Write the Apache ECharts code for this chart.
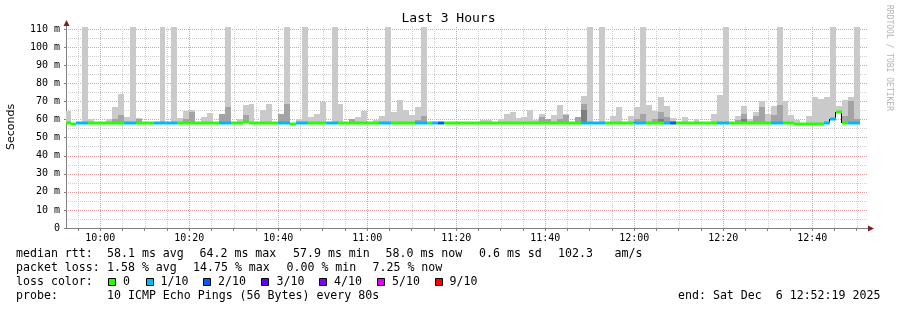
<!DOCTYPE html>
<html><head><meta charset="utf-8">
<script src="https://cdn.jsdelivr.net/npm/echarts@6/dist/echarts.min.js"></script>
<style>html,body{margin:0;padding:0;background:#fff}#c{width:897px;height:310px}</style>
</head><body><div id="c"></div>
<script>
// ---------- data ----------
// x values are seconds since local midnight, Sat Dec 6 2025
const STEP_SEC = 80;
const START = 9 * 3600 + 52 * 60 + 19;      // 09:52:19
const END = 12 * 3600 + 52 * 60 + 19;       // 12:52:19
const FIRST_STEP_END = 9 * 3600 + 53 * 60 + 20;

// top of the lightest smoke layer (max ping), null = no visible smoke
const smokeMax = [
 64.6,null,null,111.3,60.5,null,null,60.2,66.8,74.4,
 61.5,111.3,61,null,null,null,111.3,null,111.3,61,
 65,65.5,null,61.7,63.9,null,63.3,111.3,null,60.5,
 68.1,68.9,null,65.5,68.9,null,63.3,111.3,null,60.5,
 111.3,61.3,63.3,69.6,null,111.3,68.9,null,60.5,61.3,
 64.6,null,60,62.2,111.3,64.1,71.1,65.2,62.8,67,
 111.3,null,null,null,null,null,null,null,null,null,
 60,59.8,null,60.6,63.2,64,61,61.3,65.6,60,
 63.2,60.6,62.8,68.3,63.2,null,61.3,73.3,111.3,null,
 111.3,null,61.9,67,null,61.9,67,111.3,68.3,64.6,
 72.4,67.8,61,null,61.3,null,60.6,null,null,63.3,
 73.9,111.3,null,61.9,67.8,60.6,64.1,70.6,63.2,67.8,
 111.3,70.6,62.8,60,null,62.2,72.6,71.7,72.6,111.3,
 67.8,71.1,72.6,111.3,null
];
// top of the middle smoke layer
const smokeMid = [
 null,null,null,null,null,null,null,null,60.5,62.4,
 null,null,60.5,null,null,null,null,null,null,null,
 60.5,64.3,null,null,null,null,63.3,67.2,null,null,
 62.4,null,null,null,null,null,63.3,68.9,null,null,
 null,null,null,null,null,null,null,null,60.5,null,
 null,null,null,null,null,null,null,null,null,60,
 61.9,null,null,null,null,null,null,null,null,null,
 null,null,null,null,null,null,null,null,null,null,
 61.5,60.6,null,60.3,62.8,null,61.3,68.9,null,null,
 null,null,null,null,null,null,60.6,63.2,null,60.6,
 64.1,61.3,null,null,null,null,null,null,null,null,
 null,null,null,60,63.2,null,61.9,67,null,62.8,
 68.3,null,null,null,null,null,null,null,null,null,
 null,62.2,70.6,60.6,null
];
// top of the dark smoke layer
const smokeDark = [
 null,null,null,null,null,null,null,null,null,null,
 null,null,null,null,null,null,58.9,null,null,null,
 null,null,null,null,null,null,null,null,null,null,
 null,null,null,null,null,null,null,null,null,null,
 null,null,null,null,null,null,null,null,null,null,
 null,null,null,null,null,null,null,null,null,null,
 null,null,null,null,null,null,null,null,null,null,
 null,null,null,null,null,null,null,null,null,null,
 null,null,null,null,null,null,null,65.2,null,null,
 null,null,null,null,null,null,null,null,null,null,
 60.6,null,null,null,null,null,null,null,null,null,
 null,null,null,null,60.6,null,null,null,null,null,
 null,null,null,null,null,null,null,null,null,null,
 null,null,null,null,null
];
// median rtt (ms)
const medianRtt = [
 58.4,57.6,58,58,58,58,58,58,58,58,
 58,58,58,58,58,58,58,58,58,58,
 58,58,58,58,58,58,58,58,58,58,
 58.5,58,58,58,58,58,58,58,57.6,58,
 58,58,58,58,58,58,58,58,58,58,
 58,58,58,58,58,58,58,58,58,58,
 58,58,58,58,58,58,58,58,58,58,
 58.4,58.4,58,58,58,58,58,58,58,58,
 58,58,58,58,58,58,58,58,58,58,
 58,58,58,58,58,58,58,58,58.4,58,
 58,58,58,58,58,58,58,58,58,58,
 58,58,58,58,58,58,58,58,58,58,
 58,58.4,58.4,57.7,57.7,57.7,57.7,57.7,58,60.3,
 64.2,57.9,58,58,null
];
// lost pings out of 10
const lossCount = [
 0,0,1,1,0,0,0,0,0,0,
 1,1,0,0,0,1,1,1,1,0,
 0,0,0,0,0,0,1,1,0,0,
 0,0,0,0,0,0,1,1,0,1,
 1,0,0,0,1,1,0,0,0,0,
 0,0,0,1,1,0,0,0,0,1,
 1,0,1,2,0,0,0,0,0,0,
 0,0,0,0,0,0,0,0,0,0,
 0,0,0,0,0,0,0,1,1,1,
 1,0,0,0,0,0,1,1,0,0,
 0,1,2,0,0,0,0,0,0,0,
 1,1,0,0,0,0,0,0,0,1,
 1,0,0,0,0,0,0,0,1,1,
 0,0,1,1,null
];
const lossLevels = [0, 1, 2, 3, 4, 5, 9];
const lossLabels = ['0', '1/10', '2/10', '3/10', '4/10', '5/10', '9/10'];
const lossColors = ['#26ff00', '#00b8ff', '#0059ff', '#5e00ff', '#7e00ff', '#dd00ff', '#ff0000'];
const yTicks = [0,10,20,30,40,50,60,70,80,90,100,110];
const xTickLabels = ['10:00','10:20','10:40','11:00','11:20','11:40','12:00','12:20','12:40'];
const xMinorTickMinutes = 5;

const statRows = [
  [['median rtt:', 16], ['58.1 ms avg', 107], ['64.2 ms max', 199.5], ['57.9 ms min', 293], ['58.0 ms now', 385.5], ['0.6 ms sd', 479], ['102.3', 558], ['am/s', 614.5]],
  [['packet loss:', 16], ['1.58 % avg', 107], ['14.75 % max', 193], ['0.00 % min', 286.5], ['7.25 % now', 372.5]],
  [['loss color:', 16]],
  [['probe:', 16], ['10 ICMP Echo Pings (56 Bytes) every 80s', 107], ['end: Sat Dec  6 12:52:19 2025', 678]]
];
const legendBoxX = [108.3, 145.7, 203.3, 261, 319, 376.7, 435];
const legendLabelX = [123, 160.5, 218, 276.5, 334, 392, 449.5];

// ---------- build ----------
const stepEnd = medianRtt.map((_, i) => FIRST_STEP_END + i * STEP_SEC);
const colorOfLoss = l => lossColors[Math.max(0, lossLevels.indexOf(l))];
const two = n => (n < 10 ? '0' : '') + n;
const hhmm = s => two(Math.floor(s / 3600)) + ':' + two(Math.floor((s % 3600) / 60));
const parseHM = str => { const p = str.split(':'); return (+p[0]) * 3600 + (+p[1]) * 60; };
const majorX = xTickLabels.map(parseHM);
const minorX = [];
for (let s = Math.ceil(START / (xMinorTickMinutes * 60)) * xMinorTickMinutes * 60; s < END; s += xMinorTickMinutes * 60) {
  if (majorX.indexOf(s) < 0) minorX.push(s);
}

function layerData(arr) {
  const out = [];
  arr.forEach((v, i) => { if (v != null && medianRtt[i] != null) out.push([stepEnd[i], medianRtt[i] - 0.4, v]); });
  return out;
}
function smokeRender(color) {
  return function (params, api) {
    const t = api.value(0), lo = api.value(1), hi = api.value(2);
    const a = api.coord([t - STEP_SEC, hi]);
    const b = api.coord([t, lo]);
    const cs = params.coordSys;
    const x0 = Math.max(Math.round(a[0]), cs.x), x1 = Math.min(Math.round(b[0]), cs.x + cs.width);
    const y0 = Math.max(Math.round(a[1]), cs.y), y1 = Math.round(b[1]);
    if (x1 <= x0) return;
    return { type: 'rect', shape: { x: x0, y: y0, width: x1 - x0, height: y1 - y0 }, style: { fill: color } };
  };
}
function vGridRender(color) {
  return function (params, api) {
    const p = api.coord([api.value(0), 0]);
    const cs = params.coordSys;
    const x = Math.round(p[0]) + 0.5;
    return { type: 'line', shape: { x1: x, y1: cs.y + cs.height, x2: x, y2: cs.y }, style: { stroke: color, lineWidth: 1, lineDash: [1, 1] } };
  };
}
const medData = [];
const connData = [];
medianRtt.forEach((m, i) => {
  if (m == null) return;
  medData.push([stepEnd[i], m, lossCount[i]]);
  const n = medianRtt[i + 1];
  if (n != null) connData.push([stepEnd[i], m, n]);
});

const GRID = { left: 66, right: 30, top: 27, bottom: 82 };
const mono = 'DejaVu Sans Mono';
const MAJOR_C = '#e89c9c', MINOR_C = '#cfcfcf';

const chart = echarts.init(document.getElementById('c'), null, { renderer: 'canvas' });

const graphics = [];
graphics.push({ type: 'text', left: 'center', top: 12, style: { text: 'Last 3 Hours', font: '13px "' + mono + '"', fill: '#000' } });
graphics.push({ type: 'text', x: 11, y: 127, rotation: Math.PI / 2, style: { text: 'Seconds', font: '11px "DejaVu Sans"', fill: '#000', align: 'center', verticalAlign: 'middle' } });
graphics.push({ type: 'text', x: 889, y: 5, rotation: -Math.PI / 2, style: { text: 'RRDTOOL / TOBI OETIKER', font: '8px "' + mono + '"', fill: '#b4b4b4', align: 'left', verticalAlign: 'middle' } });
const rowY = [254, 268, 282, 296];
statRows.forEach((row, r) => row.forEach(([txt, x]) => graphics.push({
  type: 'text', x: x, y: rowY[r], style: { text: txt, font: '11.6px "' + mono + '"', fill: '#000', verticalAlign: 'middle' }
})));
lossLabels.forEach((lab, k) => {
  graphics.push({ type: 'rect', shape: { x: Math.round(legendBoxX[k]) + 0.5, y: 278.5, width: 7, height: 7 }, style: { fill: lossColors[k], stroke: '#000', lineWidth: 1 } });
  graphics.push({ type: 'text', x: legendLabelX[k], y: rowY[2], style: { text: lab, font: '11.6px "' + mono + '"', fill: '#000', verticalAlign: 'middle' } });
});
// axis arrows
const axisBottom = 310 - GRID.bottom, axisRight = 897 - GRID.right;
graphics.push({ type: 'line', shape: { x1: GRID.left + 0.5, y1: GRID.top, x2: GRID.left + 0.5, y2: 22 }, style: { stroke: '#808080', lineWidth: 1 } });
graphics.push({ type: 'polygon', shape: { points: [[GRID.left - 2.5, 26], [GRID.left + 3.5, 26], [GRID.left + 0.5, 20]] }, style: { fill: '#7f1f1f' } });
graphics.push({ type: 'line', shape: { x1: axisRight, y1: axisBottom + 0.5, x2: axisRight + 3, y2: axisBottom + 0.5 }, style: { stroke: '#808080', lineWidth: 1 } });
graphics.push({ type: 'polygon', shape: { points: [[axisRight + 1, axisBottom - 2.5], [axisRight + 1, axisBottom + 3.5], [axisRight + 7, axisBottom + 0.5]] }, style: { fill: '#7f1f1f' } });

const majorDot = { color: MAJOR_C, type: [1, 1], width: 1 };
const minorDot = { color: MINOR_C, type: [1, 1], width: 1 };

chart.setOption({
  animation: false,
  backgroundColor: '#fff',
  grid: GRID,
  xAxis: [
    { type: 'value', min: START, max: END, z: 0,
      axisLine: { show: false }, axisLabel: { show: false },
      axisTick: { show: true, length: 3, customValues: minorX.concat(majorX), lineStyle: { color: '#808080' } },
      splitLine: { show: false } },
    { type: 'value', min: START, max: END, z: 1, position: 'bottom',
      axisLine: { show: true, lineStyle: { color: '#808080', width: 1 } },
      axisTick: { show: false, customValues: majorX },
      axisLabel: { margin: 5, color: '#000', fontFamily: mono, fontSize: 10, customValues: majorX,
        formatter: v => hhmm(v) },
      splitLine: { show: false } }
  ],
  yAxis: [
    { type: 'value', min: 0, max: 111.3, interval: 5, z: 0,
      axisLine: { show: false }, axisLabel: { show: false }, axisTick: { show: false },
      splitLine: { show: true, lineStyle: minorDot, showMinLine: false, showMaxLine: false } },
    { type: 'value', min: 0, max: 111.3, interval: 10, z: 1, position: 'left',
      axisLine: { show: true, lineStyle: { color: '#808080', width: 1 } },
      axisTick: { show: true, length: 2, inside: false, lineStyle: { color: '#808080' } },
      axisLabel: { margin: 6, color: '#000', fontFamily: mono, fontSize: 10, showMaxLabel: false,
        formatter: v => (yTicks.indexOf(v) < 0 ? '' : (v === 0 ? '0' : v + ' m')) },
      splitLine: { show: true, lineStyle: majorDot, showMinLine: false, showMaxLine: false } }
  ],
  series: [
    { type: 'custom', xAxisIndex: 1, yAxisIndex: 1, data: minorX.map(v => [v]), renderItem: vGridRender(MINOR_C), z: 1, silent: true },
    { type: 'custom', xAxisIndex: 1, yAxisIndex: 1, data: majorX.map(v => [v]), renderItem: vGridRender(MAJOR_C), z: 1, silent: true },
    { type: 'custom', xAxisIndex: 1, yAxisIndex: 1, data: layerData(smokeMax), renderItem: smokeRender('#cacaca'), z: 2, silent: true },
    { type: 'custom', xAxisIndex: 1, yAxisIndex: 1, data: layerData(smokeMid), renderItem: smokeRender('#a4a4a4'), z: 3, silent: true },
    { type: 'custom', xAxisIndex: 1, yAxisIndex: 1, data: layerData(smokeDark), renderItem: smokeRender('#7e7e7e'), z: 4, silent: true },
    { type: 'custom', xAxisIndex: 1, yAxisIndex: 1, data: connData, z: 5, silent: true,
      renderItem: (params, api) => {
        const a = api.coord([api.value(0), api.value(1)]), b = api.coord([api.value(0), api.value(2)]);
        const x = Math.round(a[0]) - 0.5;
        return { type: 'line', shape: { x1: x, y1: Math.round(a[1]), x2: x, y2: Math.round(b[1]) }, style: { stroke: '#000', lineWidth: 1 } };
      } },
    { type: 'custom', xAxisIndex: 1, yAxisIndex: 1, data: medData, z: 6, silent: true,
      renderItem: (params, api) => {
        const t = api.value(0), m = api.value(1), l = api.value(2);
        const a = api.coord([t - STEP_SEC, m]), b = api.coord([t, m]);
        const cs = params.coordSys;
        const x0 = Math.max(Math.round(a[0]), cs.x), x1 = Math.min(Math.round(b[0]), cs.x + cs.width);
        const yc = Math.round(a[1]);
        return { type: 'rect', shape: { x: x0, y: yc - 1.5, width: x1 - x0, height: 3 }, style: { fill: colorOfLoss(l) } };
      } }
  ],
  graphic: graphics
});
</script>
</body></html>
